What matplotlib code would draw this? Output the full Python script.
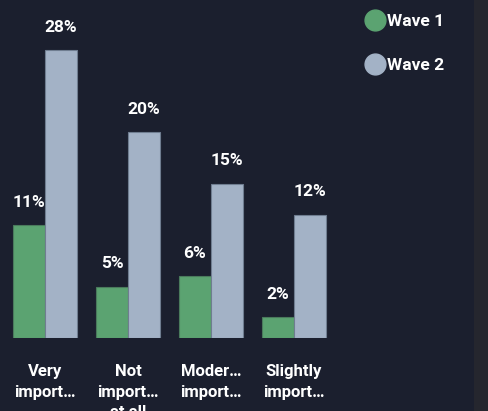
import matplotlib.pyplot as plt
import numpy as np
from matplotlib.lines import Line2D
from matplotlib.patches import Rectangle

categories = ["Very\nimport…", "Not\nimport…\nat all", "Moder…\nimport…", "Slightly\nimport…"]
wave1 = [11, 5, 6, 2]
wave2 = [28, 20, 15, 12]
series_names = ["Wave 1", "Wave 2"]

bg = "#1b1f2e"
green = "#5ba371"
grey = "#a3b2c6"
plt.rcParams['font.family'] = ['Roboto', 'DejaVu Sans']

W, H = 488, 411
fig = plt.figure(figsize=(W / 100, H / 100), dpi=100, facecolor=bg)

# narrow side panel on the right edge
fig.add_artist(Rectangle((474 / W, 0), 1, 1, transform=fig.transFigure,
                         facecolor="#25262e", edgecolor="none", zorder=0))

base = 338
ax = fig.add_axes([0, (H - base) / H, 340 / W, base / H])
ax.set_facecolor(bg)
ax.patch.set_alpha(0)
for s in ax.spines.values():
    s.set_visible(False)

x = np.arange(len(categories))
bw = 32 / 83
b1 = ax.bar(x - bw / 2, wave1, bw, color=green, edgecolor="#4a7a5c", linewidth=0.8)
b2 = ax.bar(x + bw / 2, wave2, bw, color=grey, edgecolor="#6f7d90", linewidth=0.8)

ax.set_xlim(-45 / 83, 295 / 83)
ax.set_ylim(0, base / (288 / 28))
ax.set_yticks([])
ax.set_xticks([])

for bars, vals in ((b1, wave1), (b2, wave2)):
    for r, v in zip(bars, vals):
        ax.annotate(f"{v}%", (r.get_x() + r.get_width() / 2, v),
                    xytext=(0, 11), textcoords="offset points",
                    ha="center", va="bottom", color="white",
                    fontsize=12.5, fontweight="bold")

# category labels, wrapped; the third line runs off the bottom
for xi, lab in zip(x, categories):
    ax.annotate(lab, (xi, 0), xytext=(0, -19), textcoords="offset points",
                ha="center", va="top", color="white", fontsize=12,
                fontweight="bold", linespacing=1.45, annotation_clip=False)

handles = [Line2D([], [], marker="o", linestyle="none", markersize=15,
                  markerfacecolor=c, markeredgecolor=c) for c in (green, grey)]
leg = fig.legend(handles, series_names, loc="upper left",
                 bbox_to_anchor=(354 / W, 1 - 7 / H), frameon=False,
                 handletextpad=-0.1, labelspacing=1.65, handlelength=1.6,
                 borderaxespad=0, prop={"size": 12.5, "weight": "bold"})
for t in leg.get_texts():
    t.set_color("white")

fig.savefig("out.png", dpi=100, facecolor=bg)
